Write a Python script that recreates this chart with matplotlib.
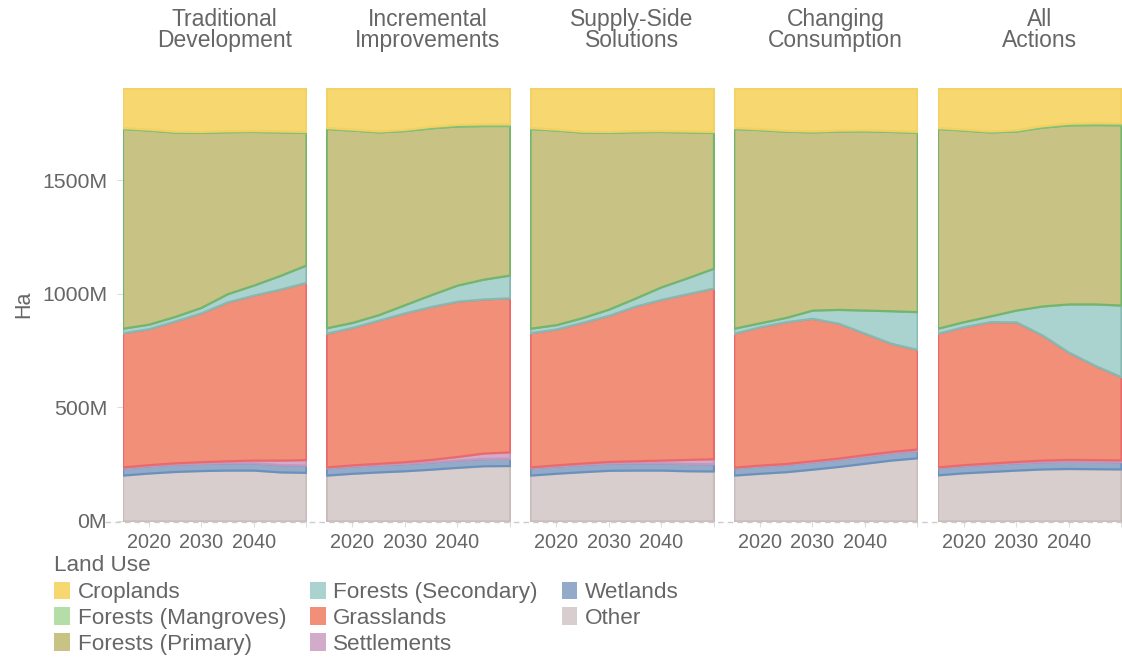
import matplotlib
matplotlib.use("Agg")
import matplotlib.pyplot as plt
from matplotlib.patches import Patch
from matplotlib.lines import Line2D
import numpy as np

plt.rcParams['font.family'] = ['Liberation Sans', 'DejaVu Sans']

# ---------------- data (million ha) ----------------
years = [2015, 2020, 2025, 2030, 2035, 2040, 2045, 2050]
scenarios = ["Traditional\nDevelopment", "Incremental\nImprovements", "Supply-Side\nSolutions",
             "Changing\nConsumption", "All\nActions"]

other = [
    [202, 211, 218, 222, 224, 224, 216, 214],
    [202, 210, 216, 221, 228, 236, 243, 244],
    [202, 210, 217, 223, 224, 224, 221, 220],
    [202, 210, 217, 228, 240, 254, 268, 278],
    [203, 212, 218, 224, 229, 231, 230, 229],
]
wetlands = [
    [32, 32, 32, 32, 32, 32, 32, 32],
    [32, 32, 32, 32, 32, 32, 32, 32],
    [32, 32, 32, 32, 32, 32, 32, 32],
    [32, 32, 32, 32, 32, 32, 32, 32],
    [32, 32, 32, 32, 32, 32, 32, 32],
]
settlements = [
    [4, 5, 6, 7, 9, 12, 20, 24],
    [4, 5, 6, 8, 11, 16, 24, 28],
    [4, 5, 6, 7, 9, 12, 18, 22],
    [3, 4, 4, 5, 5, 6, 6, 7],
    [3, 4, 5, 6, 7, 8, 8, 8],
]
grasslands = [
    [590, 598, 624, 655, 699, 726, 752, 780],
    [588, 605, 630, 655, 673, 683, 678, 678],
    [590, 598, 619, 643, 680, 707, 729, 751],
    [589, 609, 624, 627, 593, 534, 476, 438],
    [588, 607, 622, 614, 550, 472, 415, 366],
]
forests_secondary = [
    [20, 20, 20, 24, 36, 44, 60, 76],
    [24, 22, 24, 36, 52, 71, 87, 100],
    [20, 19, 21, 27, 35, 55, 70, 87],
    [22, 17, 19, 36, 61, 102, 143, 166],
    [22, 22, 25, 52, 128, 212, 270, 315],
]
forests_primary = [
    [879, 854, 811, 770, 713, 676, 632, 584],
    [877, 846, 804, 766, 734, 700, 676, 658],
    [879, 856, 816, 778, 733, 684, 642, 598],
    [879, 850, 819, 784, 785, 789, 789, 789],
    [879, 843, 810, 788, 787, 788, 789, 793],
]
forests_mangroves = [
    [4, 4, 4, 4, 4, 4, 4, 4],
    [4, 4, 4, 5, 6, 7, 7, 7],
    [4, 4, 4, 4, 4, 4, 4, 4],
    [4, 4, 4, 4, 4, 4, 4, 4],
    [4, 4, 4, 5, 6, 7, 8, 8],
]
croplands = [
    [174, 181, 190, 191, 188, 187, 189, 191],
    [174, 181, 189, 182, 169, 160, 158, 158],
    [174, 181, 190, 191, 188, 187, 189, 191],
    [174, 179, 186, 189, 185, 184, 187, 191],
    [174, 181, 189, 184, 166, 155, 153, 154],
]

# stacking order bottom -> top
stack = [
    ("Other", other, "#d7cecd", "#c8bcbb"),
    ("Wetlands", wetlands, "#93abc8", "#6a91bd"),
    ("Settlements", settlements, "#d2aaca", "#c497bd"),
    ("Grasslands", grasslands, "#f18f78", "#ea6a6c"),
    ("Forests (Secondary)", forests_secondary, "#aad3cf", "#86b9b2"),
    ("Forests (Primary)", forests_primary, "#c8c385", "#74b56c"),
    ("Forests (Mangroves)", forests_mangroves, "#b5dda8", "#7cc27a"),
    ("Croplands", croplands, "#f7d76f", "#f3d062"),
]
legend_order = ["Croplands", "Forests (Mangroves)", "Forests (Primary)", "Forests (Secondary)",
                "Grasslands", "Settlements", "Wetlands", "Other"]

# ---------------- figure ----------------
W, H = 1122, 659
fig = plt.figure(figsize=(W / 100, H / 100), dpi=100)
txt = "#666666"

top_px, bot_px = 88, 521
pw = 183.5
lefts = [122.5 + i * 203.75 for i in range(5)]
x = np.array(years, dtype=float)

for i, title in enumerate(scenarios):
    ax = fig.add_axes([lefts[i] / W, 1 - bot_px / H, pw / W, (bot_px - top_px) / H])
    base = np.zeros(len(years))
    for name, arr, fc, ec in stack:
        vals = np.array(arr[i], dtype=float)
        ax.fill_between(x, base, base + vals, facecolor=fc, edgecolor=ec, linewidth=1.6, zorder=2)
        base = base + vals
    ax.set_xlim(2015, 2050)
    ax.set_ylim(0, 1905)
    for s in ax.spines.values():
        s.set_visible(False)
    ax.set_xticks([2020, 2030, 2040, 2050])
    ax.set_xticklabels(["2020", "2030", "2040", ""])
    ax.tick_params(axis='x', length=4, color="#dddddd", labelsize=14.3, labelcolor=txt, pad=5)
    ax.set_yticks([0, 500, 1000, 1500])
    if i == 0:
        ax.set_yticklabels(["0M", "500M", "1000M", "1500M"])
        ax.tick_params(axis='y', length=4, color="#dddddd", labelsize=15.3, labelcolor=txt, pad=7)
        ax.set_ylabel("Ha", fontsize=15.5, color=txt, labelpad=6)
    else:
        ax.set_yticklabels([])
        ax.tick_params(axis='y', length=0)
    cx = (lefts[i] + pw / 2 + 10) / W
    fig.text(cx, 1 - 30 / H, title, ha='center', va='center', fontsize=16.5,
             color=txt, linespacing=0.93)

# dashed zero baseline across panels
fig.add_artist(Line2D([105 / W, 1.0], [1 - 521.5 / H, 1 - 521.5 / H], color="#cccccc",
                      linestyle=(0, (4, 3)), linewidth=1, zorder=1))

# legend
colors = {name: fc for name, arr, fc, ec in stack}
handles = [Patch(facecolor=colors[n], edgecolor='none', label=n) for n in legend_order]
leg = fig.legend(handles=handles, loc='upper left', bbox_to_anchor=(54 / W, 1 - 555 / H),
                 ncol=3, frameon=False, fontsize=16.2, title="Land Use", title_fontsize=16.2,
                 handlelength=0.7, handleheight=0.8, handletextpad=0.35, columnspacing=1.05,
                 labelspacing=0.2, borderpad=0, borderaxespad=0, alignment='left')
leg._legend_box.sep = 4
for t in leg.get_texts():
    t.set_color(txt)
leg.get_title().set_color(txt)

fig.savefig("out.png", dpi=100, facecolor="white")
